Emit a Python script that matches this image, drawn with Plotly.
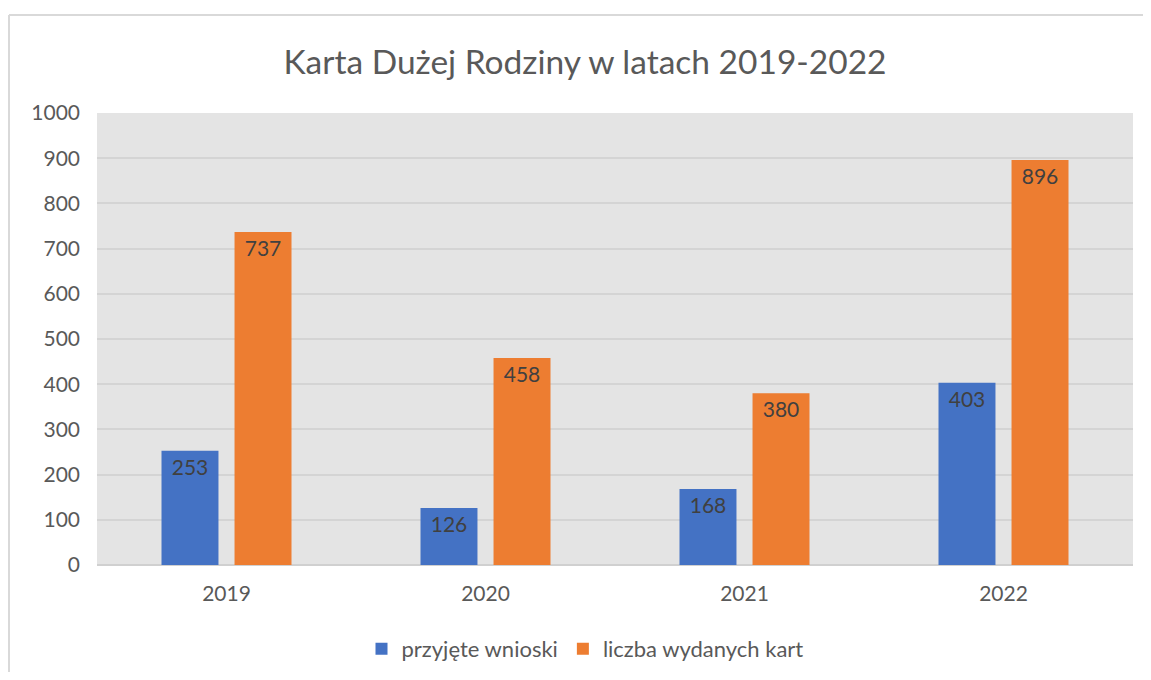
import plotly.graph_objects as go

years = ["2019", "2020", "2021", "2022"]
przyjete_wnioski = [253, 126, 168, 403]
wydane_karty = [737, 458, 380, 896]
series_names = ["przyjęte wnioski", "liczba wydanych kart"]
y_ticks = list(range(0, 1001, 100))

FONT = "Lato"
OFF = 8  # page body margin
W, H = 1151 - 2 * OFF, 680 - 2 * OFF
# reference pixel positions (window coordinates)
PL, PR, PT, PB = 97, 1133, 113, 565
L, T = PL - OFF, PT - OFF
R, B = W - (PR - OFF), H - (PB - OFF)
pw, ph = W - L - R, H - T - B

def px_x(p):
    return (p - PL) / pw

def px_y(p):
    return (PB - p) / ph

fig = go.Figure()
for name, vals, col in [(series_names[0], przyjete_wnioski, "#4472C4"),
                        (series_names[1], wydane_karty, "#ED7D31")]:
    fig.add_trace(go.Bar(
        x=years, y=vals, name=name,
        marker=dict(color=col, line=dict(width=0)),
        text=[str(v) for v in vals],
        textposition="inside", insidetextanchor="end",
        textfont=dict(family=FONT, size=21, color="#404040"),
        textangle=0,
    ))

border = dict(color="#D9D9D9", width=2)
fig.update_layout(
    width=W, height=H,
    margin=dict(l=L, r=R, t=T, b=B, autoexpand=False),
    paper_bgcolor="white",
    plot_bgcolor="#E4E4E4",
    barmode="group",
    bargap=0.436,
    bargroupgap=0.22,
    font=dict(family=FONT, color="#595959", size=20),
    title=dict(text="Karta Dużej Rodziny w latach 2019-2022",
               font=dict(family=FONT, size=33.5, color="#595959"),
               x=(585 - OFF) / W, xref="container", xanchor="center",
               y=1 - (62 - OFF) / H, yref="container", yanchor="middle"),
    legend=dict(orientation="h", x=px_x(585), xanchor="center",
                y=px_y(649), yanchor="middle",
                font=dict(family=FONT, size=22, color="#595959"),
                bgcolor="rgba(0,0,0,0)"),
    xaxis=dict(showgrid=False, ticks="", showline=False,
               tickfont=dict(family=FONT, size=21, color="#595959"),
               ticklabelstandoff=14),
    yaxis=dict(range=[0, 1000], tickvals=y_ticks, showgrid=True,
               gridcolor="#D4D4D4", gridwidth=2, zeroline=True,
               zerolinecolor="#D0D0D0", zerolinewidth=2, ticks="",
               tickfont=dict(family=FONT, size=21, color="#595959"),
               ticklabelstandoff=16),
    shapes=[
        dict(type="line", xref="paper", yref="paper",
             x0=px_x(9), x1=px_x(9), y0=px_y(700), y1=px_y(15),
             line=border, layer="below"),
        dict(type="line", xref="paper", yref="paper",
             x0=px_x(9), x1=px_x(1175), y0=px_y(15), y1=px_y(15),
             line=border, layer="below"),
    ],
)

fig.write_html("out.html")
